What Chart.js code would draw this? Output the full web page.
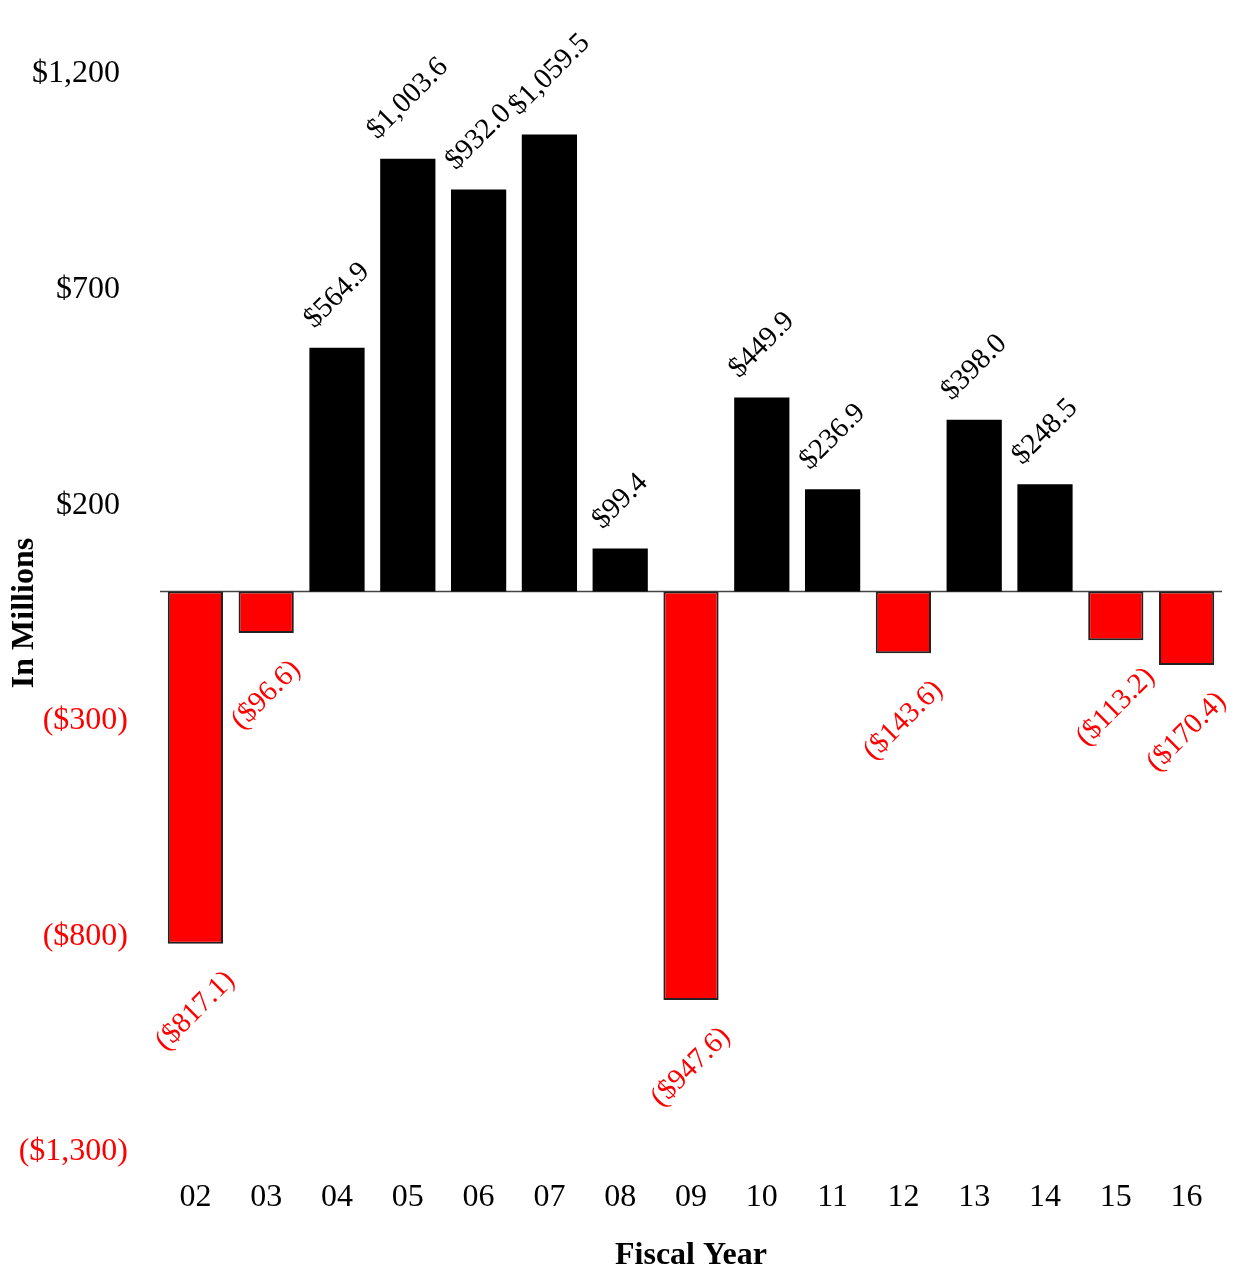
<!DOCTYPE html>
<html>
<head>
<meta charset="utf-8">
<script src="https://cdn.jsdelivr.net/npm/chart.js@4.4.1/dist/chart.umd.min.js"></script>
<style>
  body { margin: 0; background: #fff; }
  canvas { display: block; }
</style>
</head>
<body>
<canvas id="chart1" width="1238" height="1275"></canvas>
<script>
// fiscal years and net result per year (in millions)
const years = ['02', '03', '04', '05', '06', '07', '08', '09', '10', '11', '12', '13', '14', '15', '16'];
const values = [-817.1, -96.6, 564.9, 1003.6, 932.0, 1059.5, 99.4, -947.6, 449.9, 236.9, -143.6, 398.0, 248.5, -113.2, -170.4];
const yTicks = [-1300, -800, -300, 200, 700, 1200];

const FONT = "'Liberation Serif', 'Times New Roman', serif";

// money formatting: negatives in brackets
function money(v, digits) {
    const s = Math.abs(v).toLocaleString('en-US', { minimumFractionDigits: digits, maximumFractionDigits: digits });
    return v < 0 ? '($' + s + ')' : '$' + s;
}

// horizontal line at zero, behind the bars
const zeroLine = {
    id: 'zeroLine',
    beforeDatasetsDraw(chart) {
        const ctx = chart.ctx;
        const y = Math.round(chart.scales.y.getPixelForValue(0)) + 0.5;
        ctx.save();
        ctx.strokeStyle = '#444';
        ctx.lineWidth = 1.5;
        ctx.beginPath();
        ctx.moveTo(chart.chartArea.left, y);
        ctx.lineTo(chart.chartArea.right, y);
        ctx.stroke();
        ctx.restore();
    }
};

// draw the rotated value labels above / below every bar
const barLabels = {
    id: 'barLabels',
    afterDatasetsDraw(chart) {
        const ctx = chart.ctx;
        const meta = chart.getDatasetMeta(0);
        const size = 29;
        ctx.save();
        ctx.font = size + 'px ' + FONT;
        ctx.textAlign = 'center';
        ctx.textBaseline = 'middle';
        meta.data.forEach((bar, i) => {
            const v = values[i];
            const txt = money(v, 1);
            const w = ctx.measureText(txt).width;
            const half = (w + size * 0.7) * 0.7071 / 2;
            const off = v < 0 ? half + 25 : -(half + 17);
            ctx.save();
            ctx.translate(bar.x, bar.y + off);
            ctx.rotate(-Math.PI / 4);
            ctx.fillStyle = v < 0 ? '#ff0000' : '#000';
            ctx.fillText(txt, 0, 0);
            ctx.restore();
        });
        ctx.restore();
    }
};

new Chart(document.getElementById('chart1'), {
    type: 'bar',
    data: {
        labels: years,
        datasets: [{
            data: values,
            backgroundColor: values.map(v => v < 0 ? '#ff0000' : '#000000'),
            borderColor: '#222',
            borderWidth: values.map(v => v < 0 ? 2 : 0),
            borderSkipped: false,
            barPercentage: 0.78,
            categoryPercentage: 1.0
        }]
    },
    options: {
        responsive: false,
        animation: false,
        devicePixelRatio: 1,
        layout: { padding: { top: 74, right: 16, left: 0, bottom: 0 } },
        plugins: {
            legend: { display: false },
            tooltip: { enabled: false }
        },
        scales: {
            x: {
                grid: { display: false, drawTicks: false },
                border: { display: false },
                ticks: { color: '#000', font: { family: FONT, size: 32 }, padding: 26 },
                title: {
                    display: true,
                    text: 'Fiscal Year',
                    color: '#000',
                    font: { family: FONT, size: 32, weight: 'bold' },
                    padding: { top: 0, bottom: 0 }
                },
                afterFit(axis) { axis.height = 123; }
            },
            y: {
                min: -1300,
                max: 1200,
                afterBuildTicks(axis) { axis.ticks = yTicks.map(v => ({ value: v })); },
                grid: { display: false, drawTicks: false },
                border: { display: false },
                ticks: {
                    font: { family: FONT, size: 32 },
                    padding: 32,
                    color: ctx => ctx.tick.value < 0 ? '#ff0000' : '#000',
                    callback: v => v < 0 ? money(v, 0) : money(v, 0) + ' '
                },
                title: {
                    display: true,
                    text: 'In Millions',
                    color: '#000',
                    font: { family: FONT, size: 32, weight: 'bold' },
                    padding: { top: 6, bottom: 0 }
                },
                afterFit(axis) { axis.width = 160; }
            }
        }
    },
    plugins: [zeroLine, barLabels]
});
</script>
</body>
</html>
